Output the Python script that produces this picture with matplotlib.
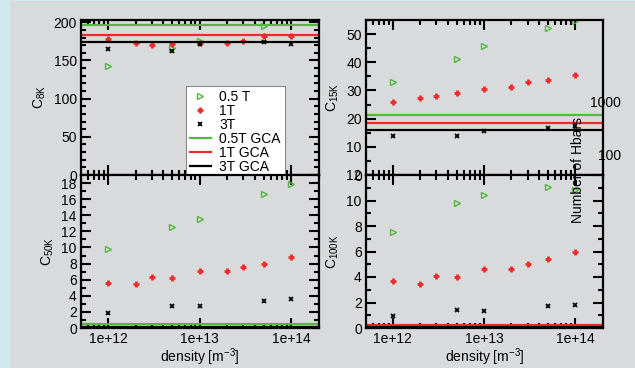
import numpy as np
import matplotlib
matplotlib.use('Agg')
import matplotlib.pyplot as plt
from matplotlib.ticker import MultipleLocator, NullLocator, LogLocator
from matplotlib.patches import Rectangle

plt.rcParams['font.family'] = ['Liberation Sans', 'DejaVu Sans']
plt.rcParams['mathtext.default'] = 'regular'
plt.rcParams['font.size'] = 10

# densities [m^-3]
density = [1e12, 2e12, 3e12, 5e12, 1e13, 2e13, 3e13, 5e13, 1e14]
density_sparse = [1e12, 5e12, 1e13, 5e13, 1e14]

# C_8K
c8k_05T = [142.9, 165.8, 175.0, 194.8, 208.0]
c8k_1T = [177.5, 172.3, 170.6, 171.9, 172.3, 173.2, 175.3, 181.8, 181.8]
c8k_3T = [165.4, 162.3, 171.0, 174.5, 171.9]
c8k_gca = [196.0, 183.5, 174.0]   # 0.5T, 1T, 3T
# C_15K
c15k_05T = [32.9, 41.2, 45.9, 52.1, 54.8]
c15k_1T = [26.0, 27.4, 28.1, 29.1, 30.4, 31.3, 32.9, 33.8, 35.4]
c15k_3T = [13.8, 14.0, 15.7, 16.7, 17.3]
c15k_gca = [21.2, 18.5, 15.9]
# C_50K
c50k_05T = [9.86, 12.58, 13.56, 16.65, 17.92]
c50k_1T = [5.59, 5.51, 6.29, 6.25, 7.11, 7.03, 7.52, 7.97, 8.80]
c50k_3T = [1.85, 2.71, 2.79, 3.33, 3.66]
c50k_gca = [0.45, 0.15, 0.1]
# C_100K
c100k_05T = [7.56, 9.77, 10.42, 11.09, 10.81]
c100k_1T = [3.71, 3.43, 4.08, 4.03, 4.65, 4.62, 5.04, 5.43, 5.95]
c100k_3T = [0.94, 1.40, 1.30, 1.71, 1.82]
c100k_gca = [0.05, 0.26, 0.05]

hbar_ticks = [100, 1000]

green = '#52b840'
red = '#ee2c2c'
bg = '#d9dadb'

fig = plt.figure(figsize=(6.35, 3.68), dpi=100)
fig.patch.set_facecolor('#cfe9ef')
fig.patches.append(Rectangle((10/635, 0), 1, 1 - 1/368, transform=fig.transFigure,
                             facecolor=bg, edgecolor='none', zorder=-10))

W = 635.0
H = 368.0
def pos(x0, x1, y0, y1):
    return [x0/W, 1 - y1/H, (x1 - x0)/W, (y1 - y0)/H]

ax_tl = fig.add_axes(pos(81, 319, 20, 175))
ax_tr = fig.add_axes(pos(366, 603, 20, 175))
ax_bl = fig.add_axes(pos(81, 319, 175, 328))
ax_br = fig.add_axes(pos(366, 603, 175, 328))

panels = [
    (ax_tl, c8k_05T, c8k_1T, c8k_3T, c8k_gca, r'C$_{8K}$', (0, 203), 50, 10),
    (ax_tr, c15k_05T, c15k_1T, c15k_3T, c15k_gca, r'C$_{15K}$', (0, 55), 10, 5),
    (ax_bl, c50k_05T, c50k_1T, c50k_3T, c50k_gca, r'C$_{50K}$', (0, 19), 2, 1),
    (ax_br, c100k_05T, c100k_1T, c100k_3T, c100k_gca, r'C$_{100K}$', (0, 12), 2, 1),
]

for ax, g, r, k, gca, lab, ylim, major, minor in panels:
    ax.set_facecolor(bg)
    ax.plot(density_sparse, g, ls='none', marker='>', ms=5, mfc='none', mec=green, mew=1,
            label='0.5 T')
    ax.plot(density, r, ls='none', marker='+', ms=5, mec=red, mew=2, label='1T')
    ax.plot(density_sparse, k, ls='none', marker='x', ms=3, mec='black', mew=1.3, label='3T')
    ax.axhline(gca[0], color=green, lw=1.6, label='0.5T GCA')
    ax.axhline(gca[1], color=red, lw=1.6, label='1T GCA')
    ax.axhline(gca[2], color='black', lw=1.6, label='3T GCA')
    ax.set_xscale('log')
    ax.set_xlim(5.07e11, 2.02e14)
    ax.set_ylim(*ylim)
    ax.yaxis.set_major_locator(MultipleLocator(major))
    ax.yaxis.set_minor_locator(MultipleLocator(minor))
    ax.xaxis.set_major_locator(LogLocator(base=10))
    ax.xaxis.set_minor_locator(LogLocator(base=10, subs=np.arange(2, 10)))
    ax.set_xticks([1e12, 1e13, 1e14], labels=['1e+12', '1e+13', '1e+14'])
    ax.tick_params(which='both', direction='in', top=True, right=True, width=1.5,
                   labelsize=10, pad=3)
    ax.tick_params(which='major', length=7)
    ax.tick_params(which='minor', length=3.5)
    for s in ax.spines.values():
        s.set_linewidth(1.6)
    ax.set_ylabel(lab, fontsize=10, labelpad=4)

ax_tl.tick_params(labelbottom=False)
ax_tr.tick_params(labelbottom=False)
ax_bl.set_xlabel(r'density [m$^{-3}$]', fontsize=10, labelpad=0)
ax_br.set_xlabel(r'density [m$^{-3}$]', fontsize=10, labelpad=0)

leg = ax_tl.legend(loc='upper left', bbox_to_anchor=(0.44, 0.574), borderaxespad=0,
                   fontsize=10, numpoints=1, handlelength=1.5, handletextpad=0.6,
                   labelspacing=0.0, borderpad=0.3, fancybox=False, framealpha=1,
                   edgecolor='#888888', facecolor='white')
leg.get_frame().set_linewidth(0.8)

# secondary axis on the C_15K panel
ax_h = ax_tr.twinx()
ax_h.set_yscale('log')
ax_h.set_ylim(41.4, 34800)
ax_h.yaxis.set_minor_locator(NullLocator())
ax_h.set_yticks(hbar_ticks, labels=[str(v) for v in hbar_ticks])
ax_h.tick_params(axis='y', length=0, pad=13, labelsize=10)
for t in ax_h.get_yticklabels():
    t.set_horizontalalignment('right')
for s in ax_h.spines.values():
    s.set_visible(False)
ax_h.set_ylabel('Number of Hbars', fontsize=10)
ax_h.yaxis.set_label_coords(0.865, 0.03)

fig.savefig('out.png', dpi=100, facecolor=fig.get_facecolor())
